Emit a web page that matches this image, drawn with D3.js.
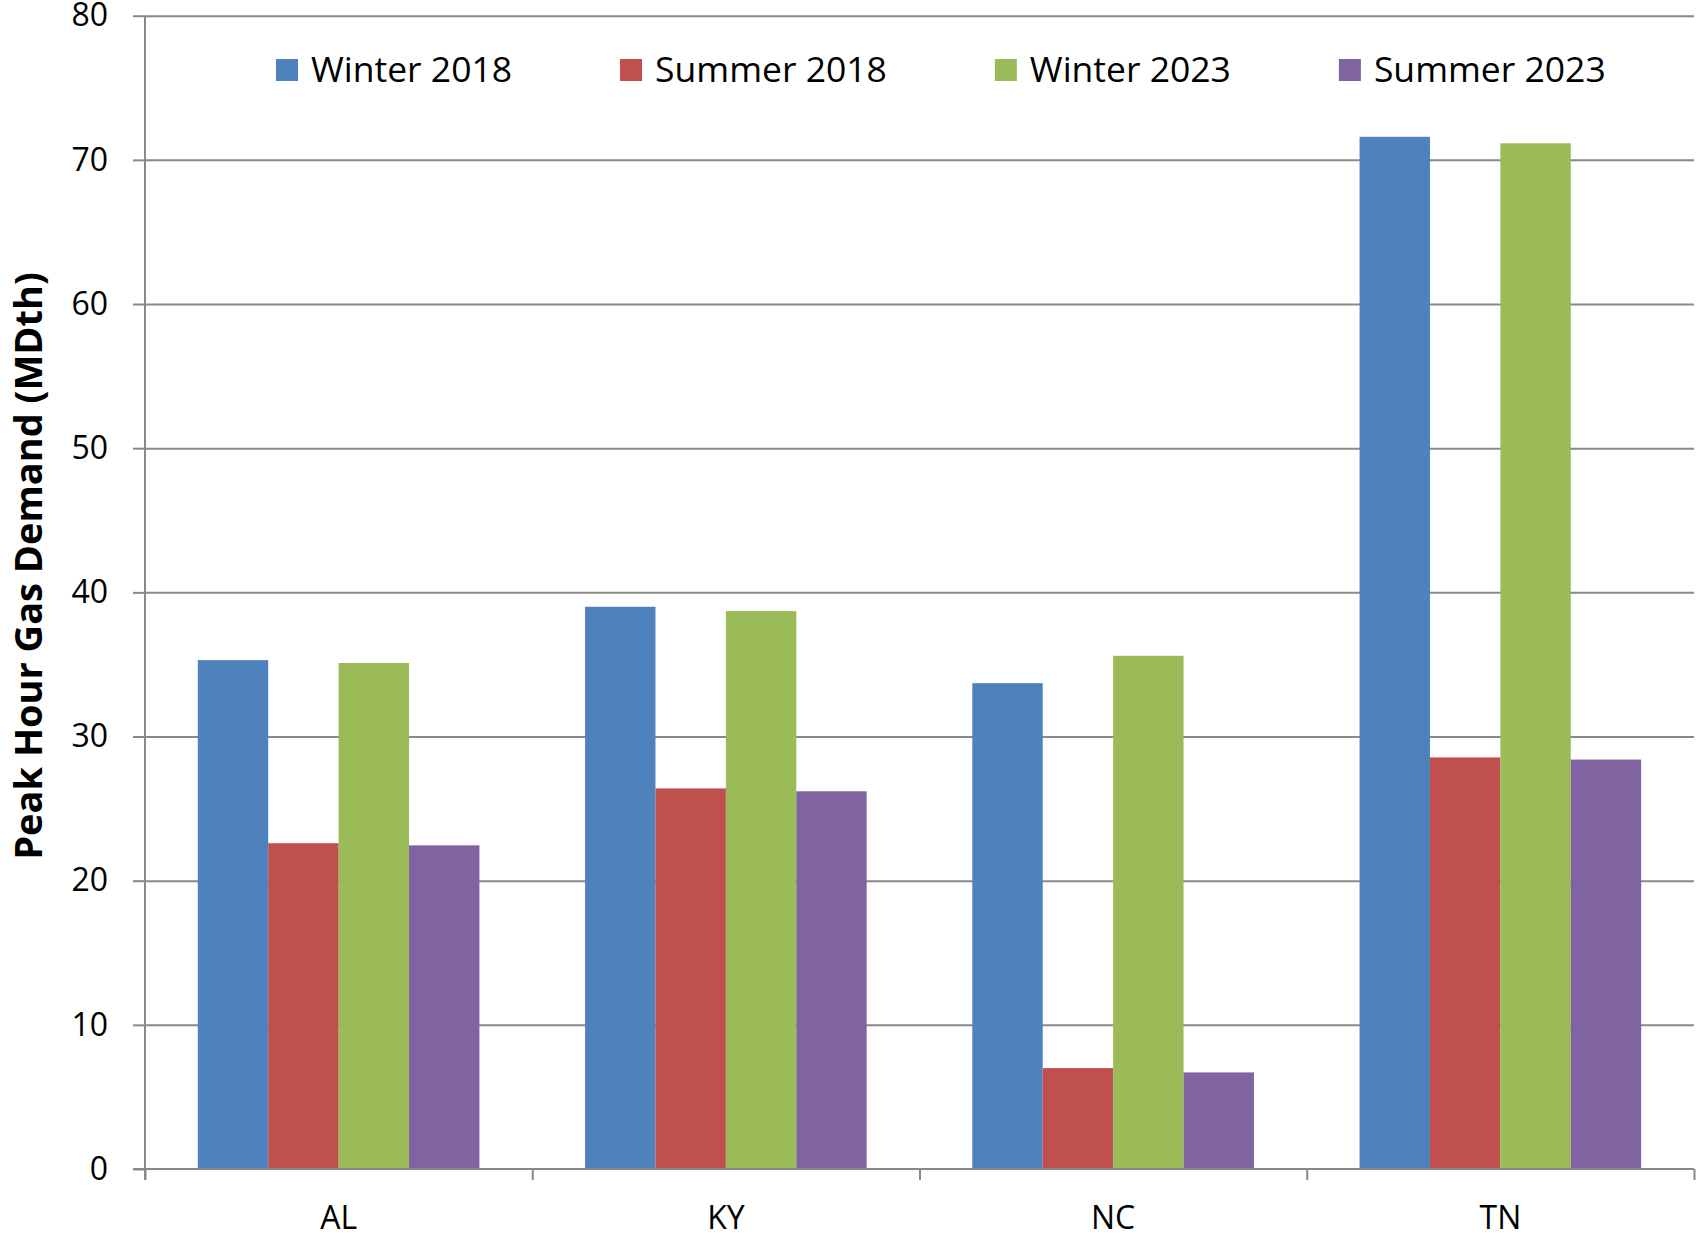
<!DOCTYPE html>
<html>
<head>
<meta charset="utf-8">
<script src="https://cdn.jsdelivr.net/npm/d3@7"></script>
<style>
  html, body { margin: 0; padding: 0; background: #ffffff; }
  svg { display: block; font-family: "Open Sans", sans-serif; }
</style>
</head>
<body>
<svg id="chart" width="1697" height="1238"></svg>
<script>
const categories = ["AL", "KY", "NC", "TN"];
const seriesNames = ["Winter 2018", "Summer 2018", "Winter 2023", "Summer 2023"];
const winter2018 = [35.3, 39.0, 33.7, 71.6];
const summer2018 = [22.6, 26.4, 7.0, 28.55];
const winter2023 = [35.1, 38.7, 35.6, 71.15];
const summer2023 = [22.45, 26.2, 6.7, 28.4];
const seriesColors = ["#4F81BD", "#C0504D", "#9BBB59", "#8064A2"];
const yTicks = [0, 10, 20, 30, 40, 50, 60, 70, 80];
const yTitle = "Peak Hour Gas Demand (MDth)";

const seriesValues = [winter2018, summer2018, winter2023, summer2023];

(function () {
const svg = d3.select("#chart");
const pLeft = 145, pRight = 1694, pTop = 15.7, pBottom = 1169;
const gridColor = "#898989";

const y = d3.scaleLinear().domain([0, 80]).range([pBottom, pTop]);
const x0 = d3.scaleBand().domain(categories).range([pLeft, pRight]).paddingInner(0).paddingOuter(0);
const x1 = d3.scaleBand().domain(seriesNames).range([0, x0.bandwidth()]).paddingInner(0).paddingOuter(0.75);
const xEdge = d3.scaleLinear().domain([0, categories.length]).range([pLeft, pRight]);

// gridlines
const grid = svg.append("g").attr("transform", `translate(${pLeft},0)`)
  .call(d3.axisLeft(y).tickValues(yTicks.filter(d => d > 0)).tickSize(-(pRight - pLeft)).tickFormat(""));
grid.select(".domain").remove();
grid.selectAll("line").attr("stroke", gridColor).attr("stroke-width", 2);

// bars
const data = categories.map((c, i) => ({cat: c, vals: seriesNames.map((s, j) => ({s, j, v: seriesValues[j][i]}))}));
const groups = svg.append("g").selectAll("g").data(data).join("g")
  .attr("transform", d => `translate(${x0(d.cat)},0)`);
groups.selectAll("rect").data(d => d.vals).join("rect")
  .attr("x", d => x1(d.s))
  .attr("width", x1.bandwidth())
  .attr("y", d => y(d.v))
  .attr("height", d => y(0) - y(d.v))
  .attr("fill", d => seriesColors[d.j]);

// y axis
const yAxis = svg.append("g").attr("transform", `translate(${pLeft},0)`)
  .call(d3.axisLeft(y).tickValues(yTicks).tickSize(12).tickPadding(25).tickSizeOuter(0));
yAxis.select(".domain").attr("stroke", gridColor).attr("stroke-width", 2)
  .attr("d", `M0,${pTop}V${pBottom + 11}`);
yAxis.selectAll("line").attr("stroke", gridColor).attr("stroke-width", 2);
yAxis.selectAll("text").attr("font-size", 32).attr("fill", "#000").attr("font-family", "Open Sans");

// x axis edge ticks
const xTicks = svg.append("g").attr("transform", `translate(0,${pBottom})`)
  .call(d3.axisBottom(xEdge).tickValues(d3.range(categories.length + 1)).tickSize(11).tickFormat("").tickSizeOuter(0));
xTicks.select(".domain").attr("stroke", gridColor).attr("stroke-width", 2).attr("d", `M${pLeft - 12},0H${pRight}`);
xTicks.selectAll("line").attr("stroke", gridColor).attr("stroke-width", 2);

// x labels
const xLabels = svg.append("g").attr("transform", `translate(0,${pBottom})`)
  .call(d3.axisBottom(x0).tickSize(0).tickPadding(37));
xLabels.select(".domain").remove();
xLabels.selectAll("text").attr("font-size", 32).attr("fill", "#000").attr("font-family", "Open Sans");

// y title
svg.append("text")
  .attr("transform", `translate(42,566) rotate(-90)`)
  .attr("text-anchor", "middle")
  .attr("font-size", 38)
  .attr("font-weight", "bold")
  .attr("fill", "#000")
  .text(yTitle);

// legend
const legend = svg.append("g");
let lx = 276;
seriesNames.forEach((s, j) => {
  const g = legend.append("g").attr("transform", `translate(${lx},0)`);
  g.append("rect").attr("x", 0).attr("y", 59).attr("width", 22).attr("height", 22).attr("fill", seriesColors[j]);
  const t = g.append("text").attr("x", 35).attr("y", 81.5).attr("font-size", 35.5).attr("fill", "#000").text(s);
  const w = t.node().getComputedTextLength();
  lx += 35 + w + 108;
});
})();
</script>
</body>
</html>
